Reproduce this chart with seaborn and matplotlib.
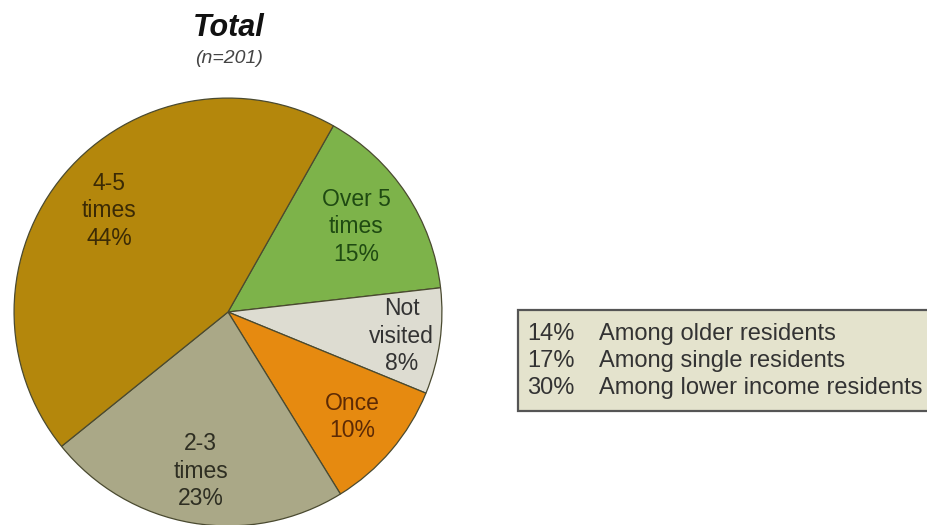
import numpy as np
import matplotlib
matplotlib.use("Agg")
import matplotlib.pyplot as plt
from matplotlib.patches import Rectangle
import seaborn as sns

# Visit frequency shares (clockwise from the top-right)
categories = ["Over 5\ntimes", "Not\nvisited", "Once", "2-3\ntimes", "4-5\ntimes"]
values = [15, 8, 10, 23, 44]

# Sub-group shares shown in the side box
box_pcts = [14, 17, 30]
box_labels = ["Among older residents", "Among single residents",
              "Among lower income residents"]

title = "Total"
subtitle = "(n=201)"

sns.set_theme(style="white")
plt.rcParams["font.family"] = ["Liberation Sans", "DejaVu Sans"]

slice_colors = ["#7DB34A", "#DDDCD1", "#E68A10", "#AAA887", "#B4870C"]
text_colors = ["#1F4A12", "#333333", "#5C2A05", "#2E2E22", "#3B2A05"]
label_radius = [0.72, 0.82, 0.76, 0.755, 0.73]

W, H = 927, 525
fig = plt.figure(figsize=(W / 100, H / 100), dpi=100)
fig.patch.set_facecolor("white")

# square axes holding the pie (centre ~ (228, 312) px, radius ~ 215 px)
cx, cy, r = 228, 525 - 312, 215
ax = fig.add_axes([(cx - r) / W, (cy - r) / H, 2 * r / W, 2 * r / H])

wedges, _ = ax.pie(values, colors=slice_colors, startangle=60.5,
                   counterclock=False, radius=1.0,
                   wedgeprops=dict(edgecolor="#4A4A30", linewidth=0.9))
ax.set_xlim(-1.005, 1.005)
ax.set_ylim(-1.005, 1.005)
ax.set_aspect("equal")
ax.axis("off")

for w, cat, val, col, dist in zip(wedges, categories, values, text_colors, label_radius):
    mid = np.deg2rad((w.theta1 + w.theta2) / 2)
    ax.text(dist * np.cos(mid), dist * np.sin(mid), f"{cat}\n{val}%",
            ha="center", va="center", fontsize=16.5, color=col, linespacing=1.25)

# title block
fig.text(229 / W, (525 - 36) / H, title, ha="center", va="baseline",
         fontsize=22, fontweight="bold", fontstyle="italic", color="#111111")
fig.text(229 / W, (525 - 63) / H, subtitle, ha="center", va="baseline",
         fontsize=14, fontstyle="italic", color="#444444")

# side box with sub-group figures
bx0, by_top, by_bot = 518, 310, 411
fig.patches.append(Rectangle((bx0 / W, (525 - by_bot) / H), 1.0,
                             (by_bot - by_top) / H, transform=fig.transFigure,
                             facecolor="#E4E3CD", edgecolor="#555555",
                             linewidth=1.6, zorder=1))
baselines = [340, 367, 394]
for pct, lab, yb in zip(box_pcts, box_labels, baselines):
    fig.text(527 / W, (525 - yb) / H, f"{pct}%", ha="left", va="baseline",
             fontsize=17, color="#333333", zorder=2)
    fig.text(599 / W, (525 - yb) / H, lab, ha="left", va="baseline",
             fontsize=17, color="#333333", zorder=2)

fig.savefig("out.png", dpi=100, facecolor="white")
